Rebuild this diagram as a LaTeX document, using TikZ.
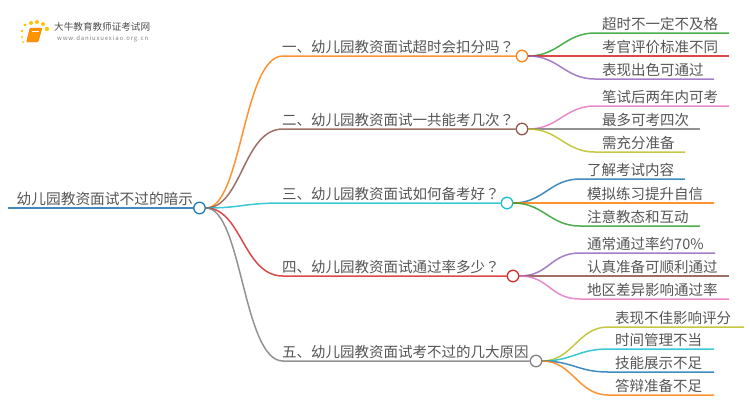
\documentclass[tikz,border=0pt]{standalone}
\usepackage{fontspec}
\setmainfont{Noto Sans CJK SC}
\newfontfamily\qfont{Noto Sans CJK TC}
\usepackage{xcolor}
\definecolor{mapblue}{HTML}{1F77B4}
\definecolor{maporange}{HTML}{FF7F0E}
\definecolor{mapgreen}{HTML}{2CA02C}
\definecolor{mapred}{HTML}{D62728}
\definecolor{mappurple}{HTML}{9467BD}
\definecolor{mapbrown}{HTML}{8C564B}
\definecolor{mappink}{HTML}{E377C2}
\definecolor{mapgray}{HTML}{7F7F7F}
\definecolor{mapolive}{HTML}{BCBD22}
\definecolor{mapcyan}{HTML}{17BECF}
\definecolor{maptext}{HTML}{555555}
\tikzset{
  hub/.style={draw,circle,fill=white,line width=1.3pt,inner sep=0pt,minimum size=11.5pt},
  wire/.style={line width=1.5pt,opacity=0.85},
  label/.style={anchor=base west,inner sep=0pt,text=maptext,font=\fontsize{14.5}{16}\selectfont},
}
\begin{document}
\begin{tikzpicture}[x=1pt,y=-1pt]
		\useasboundingbox (0,0) rectangle (750,410);

		% hubs
		\node[hub,draw=mapblue] (root) at (199.5,208) {};
		\node[hub,draw=maporange] (b1) at (522,56) {};
		\node[hub,draw=mapbrown] (b2) at (522,129) {};
		\node[hub,draw=mapcyan] (b3) at (507,203) {};
		\node[hub,draw=mapred] (b4) at (513,276) {};
		\node[hub,draw=mapgray] (b5) at (536,361) {};

		\coordinate (RootStart) at (8,208);
		\draw [wire,mapblue] (RootStart) -- (root.west);
		\node[label,font=\fontsize{14.7}{16}\selectfont] (roottext) at (16.5,204) {幼儿园教资面试不过的暗示};

		% the five questions
		\foreach \nm/\yy/\col/\txt in {
		  1/56/maporange/一、幼儿园教资面试超时会扣分吗{\qfont ？},
		  2/129/mapbrown/二、幼儿园教资面试一共能考几次{\qfont ？},
		  3/203/mapcyan/三、幼儿园教资面试如何备考好{\qfont ？},
		  4/276/mapred/四、幼儿园教资面试通过率多少{\qfont ？},
		  5/361/mapgray/五、幼儿园教资面试考不过的几大原因}{
			\coordinate (s\nm) at (283,\yy);
			\draw [wire,\col] (root.east) .. controls +(36,0) and +(-40,0) .. (s\nm) -- (b\nm.west);
			\node[label] (t\nm) at (282,\yy-4) {\txt};
		}

		% the answers: hub, row, y, start of flat part, end, colour, text
		\foreach \hb/\nm/\yy/\xs/\xe/\col/\txt in {
		  b1/a/33/595/729/mapgreen/超时不一定不及格,
		  b1/b/56/595/729/mapred/考官评价标准不同,
		  b1/c/79/595/714/mappurple/表现出色可通过,
		  b2/a/106/595/729/mappink/笔试后两年内可考,
		  b2/b/129/595/700/mapgray/最多可考四次,
		  b2/c/152/595/685/mapolive/需充分准备,
		  b3/a/179/580/685/mapblue/了解考试内容,
		  b3/b/203/580/714/maporange/模拟练习提升自信,
		  b3/c/226/580/700/mapgreen/注意教态和互动,
		  b4/a/253/580/715/mappurple/通常通过率约70\%,
		  b4/b/276/580/729/mapbrown/认真准备可顺利通过,
		  b4/c/299/580/729/mappink/地区差异影响通过率,
		  b5/a/327/608/744/mapolive/表现不佳影响评分,
		  b5/b/349/608/714/mapcyan/时间管理不当,
		  b5/c/372/608/714/mapblue/技能展示不足,
		  b5/d/395/608/714/maporange/答辩准备不足}{
			\coordinate (k\hb\nm) at (\xs,\yy);
			\coordinate (e\hb\nm) at (\xe,\yy);
			\draw [wire,\col] (\hb.east) .. controls +(30,0) and +(-30,0) .. (k\hb\nm) -- (e\hb\nm);
			\node[label] (t\hb\nm) at (\xs+7,\yy-4) {\txt};
		}

		% logo
		\foreach \dx/\dy/\dr in {37/22/2,31/23/2,25/25/1.7,22/31/1.4,22/37/1.2,23/42/1,43/24/2,47/29/2.2}{
			\fill[orange!45!yellow] (\dx,\dy) circle (\dr);
		}
		\filldraw[fill=orange!85!yellow, draw=orange!90!red, rounded corners=1pt] (30,28) -- (42,28) -- (38,42) -- (26.5,42) -- cycle;
		\draw[white, line width=0.6pt] (32,31) -- (39,31);
		\node[anchor=west,inner sep=0pt,text=black!70,font=\fontsize{9.6}{11}\selectfont] (logotext) at (54,26.5) {大牛教育教师证考试网};
		\node[anchor=west,inner sep=0pt,text=black!50,font=\fontsize{6}{7}\selectfont\addfontfeatures{LetterSpace=14}] (logourl) at (57,39) {www.daniuxuexiao.org.cn};
	  \end{tikzpicture}
\end{document}
